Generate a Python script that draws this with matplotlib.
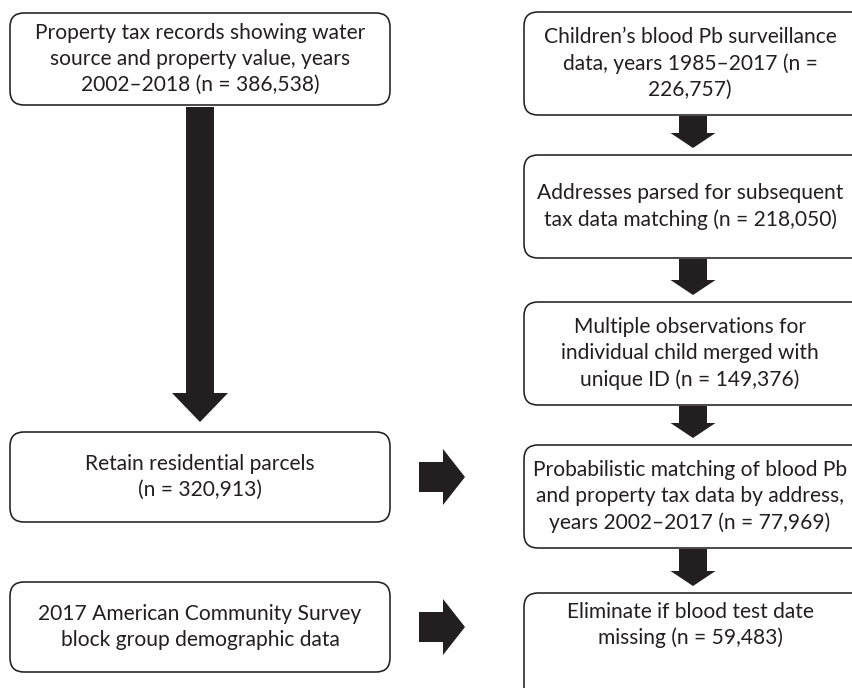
import matplotlib
matplotlib.use("Agg")
import matplotlib.pyplot as plt
from matplotlib.patches import FancyBboxPatch, Polygon

# Box texts (left column, top to bottom)
left_texts = [
    "Property tax records showing water\nsource and property value, years\n2002\u20132018 (n = 386,538)",
    "Retain residential parcels\n(n = 320,913)",
    "2017 American Community Survey\nblock group demographic data",
]

# Box texts (right column, top to bottom)
right_texts = [
    "Children\u2019s blood Pb surveillance\ndata, years 1985\u20132017 (n =\n226,757)",
    "Addresses parsed for subsequent\ntax data matching (n = 218,050)",
    "Multiple observations for\nindividual child merged with\nunique ID (n = 149,376)",
    "Probabilistic matching of blood Pb\nand property tax data by address,\nyears 2002\u20132017 (n = 77,969)",
    "Eliminate if blood test date\nmissing (n = 59,483)",
]

INK = "#231f20"
W, H = 852, 688

fig = plt.figure(figsize=(W / 100, H / 100), dpi=100)
ax = fig.add_axes([0, 0, 1, 1])
ax.set_xlim(0, W)
ax.set_ylim(H, 0)
ax.axis("off")


def box(x0, y0, x1, y1):
    p = FancyBboxPatch((x0, y0), x1 - x0, y1 - y0,
                       boxstyle="round,pad=0,rounding_size=14",
                       facecolor="white", edgecolor=INK, linewidth=1.15)
    ax.add_patch(p)


def label(x, y, s):
    ax.text(x, y, s, ha="center", va="center", fontsize=15.1,
            family="Lato", color=INK, linespacing=1.36)


def down_arrow(cx, y0, y1, shaft_w, head_w, head_h):
    ys = y1 - head_h
    pts = [(cx - shaft_w / 2, y0), (cx + shaft_w / 2, y0), (cx + shaft_w / 2, ys),
           (cx + head_w / 2, ys), (cx, y1), (cx - head_w / 2, ys), (cx - shaft_w / 2, ys)]
    ax.add_patch(Polygon(pts, closed=True, facecolor=INK, edgecolor="none"))


def right_arrow(x0, x1, cy, shaft_h, head_h, head_w):
    xs = x1 - head_w
    pts = [(x0, cy - shaft_h / 2), (xs, cy - shaft_h / 2), (xs, cy - head_h / 2),
           (x1, cy), (xs, cy + head_h / 2), (xs, cy + shaft_h / 2), (x0, cy + shaft_h / 2)]
    ax.add_patch(Polygon(pts, closed=True, facecolor=INK, edgecolor="none"))


# left column
left_boxes = [(13, 105), (432, 522), (582, 672)]
for (y0, y1), s in zip(left_boxes, left_texts):
    box(10, y0, 390, y1)
    label(200, (y0 + y1) / 2, s)

# right column (extends past the right edge)
right_boxes = [(12, 115), (155, 258), (302, 405), (445, 548), (593, 720)]
for i, ((y0, y1), s) in enumerate(zip(right_boxes, right_texts)):
    box(524, y0, 880, y1)
    cy = (y0 + y1) / 2 if i < 4 else 625
    label(690, cy, s)

# arrows between right boxes
for (a0, a1), (b0, b1) in zip(right_boxes[:-1], right_boxes[1:]):
    down_arrow(693, a1 + 1, b0 - 7, 28, 45, 15)

# big left arrow
down_arrow(200, 107, 422, 28, 56, 29)

# arrows from left to right
for cy in (477, 627):
    right_arrow(419, 465, cy, 30, 56, 22)

fig.savefig("out.png", dpi=100)
